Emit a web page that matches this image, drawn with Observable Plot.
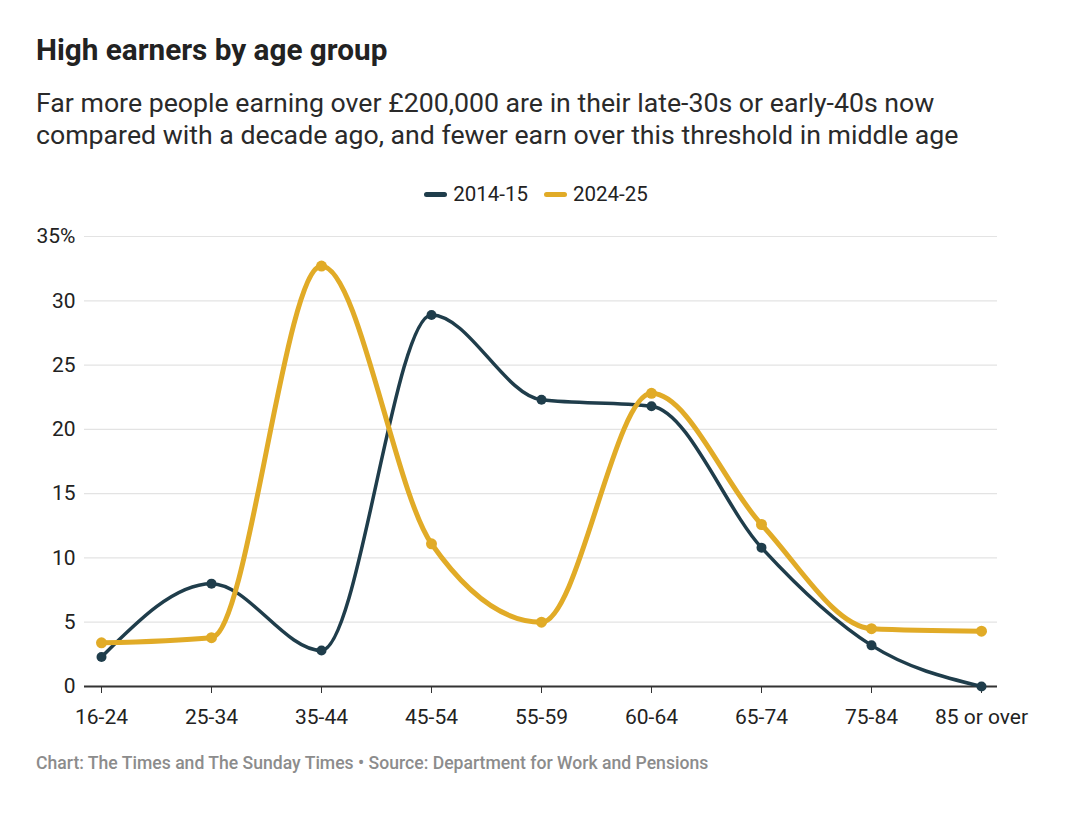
<!DOCTYPE html>
<html>
<head>
<meta charset="utf-8">
<script src="https://cdn.jsdelivr.net/npm/d3@7"></script>
<script src="https://cdn.jsdelivr.net/npm/@observablehq/plot@0.6"></script>
<style>
  html, body { margin: 0; padding: 0; background: #fff; }
  body { font-family: Roboto, "Noto Sans", sans-serif; color: #222; width: 1072px; }
  .title { position: absolute; left: 36px; top: 32px; font-size: 29.7px; font-weight: 700; line-height: 36px; color: #222; white-space: nowrap; }
  .subtitle { position: absolute; left: 36px; top: 87px; font-size: 26.7px; font-weight: 400; line-height: 32px; color: #2a2a2a; white-space: nowrap; }
  .legend { position: absolute; left: 0; width: 1072px; top: 181px; display: flex; justify-content: center; gap: 16px; font-size: 20.5px; line-height: 26px; color: #222; }
  .legend .item { display: flex; align-items: center; gap: 6px; }
  .legend .sw { width: 23px; height: 5px; border-radius: 3px; display: inline-block; }
  #chart { position: absolute; left: 0; top: 220px; }
  #chart svg text { font-size: 21px; }
  .caption { position: absolute; left: 36px; top: 752px; font-size: 17.6px; line-height: 22px; font-weight: 500; color: #8c8c8c; white-space: nowrap; }
</style>
</head>
<body>
<div class="title">High earners by age group</div>
<div class="subtitle">Far more people earning over £200,000 are in their late-30s or early-40s now<br>compared with a decade ago, and fewer earn over this threshold in middle age</div>
<div class="legend" id="legend"></div>
<div id="chart"></div>
<div class="caption">Chart: The Times and The Sunday Times • Source: Department for Work and Pensions</div>
<script>
const ages = ["16-24", "25-34", "35-44", "45-54", "55-59", "60-64", "65-74", "75-84", "85 or over"];
const s2014 = [2.3, 8.0, 2.8, 28.9, 22.3, 21.8, 10.8, 3.2, 0.0];
const s2024 = [3.4, 3.8, 32.7, 11.1, 5.0, 22.8, 12.6, 4.5, 4.3];
const seriesNames = ["2014-15", "2024-25"];
const seriesColors = ["#1f3d4b", "#e1ab27"];
const yTicks = [0, 5, 10, 15, 20, 25, 30, 35];

const rows = [];
ages.forEach((a, i) => {
  rows.push({age: a, series: seriesNames[0], value: s2014[i]});
  rows.push({age: a, series: seriesNames[1], value: s2024[i]});
});
const d14 = rows.filter(d => d.series === seriesNames[0]);
const d24 = rows.filter(d => d.series === seriesNames[1]);

const legend = document.getElementById("legend");
seriesNames.forEach((n, i) => {
  const it = document.createElement("div");
  it.className = "item";
  it.innerHTML = `<span class="sw" style="background:${seriesColors[i]}"></span><span>${n}</span>`;
  legend.appendChild(it);
});

const chart = Plot.plot({
  width: 1072,
  height: 506,
  marginTop: 16,
  marginBottom: 40,
  marginLeft: 84,
  marginRight: 75,
  style: {fontFamily: "Roboto, 'Noto Sans', sans-serif", fontSize: "21px", color: "#222", background: "white", overflow: "visible"},
  x: {type: "point", domain: ages, padding: 0.136, label: null},
  y: {domain: [0, 35], label: null},
  marks: [
    Plot.gridY(yTicks.filter(t => t > 0), {stroke: "#e3e3e3", strokeOpacity: 1, strokeWidth: 1.2}),
    Plot.axisY(yTicks, {tickSize: 0, tickPadding: 9, fill: "#222", tickFormat: d => d === 35 ? "35%" : String(d), label: null}),
    Plot.axisX({tickSize: 7, tickPadding: 16, fill: "#222", stroke: "#333", label: null}),
    Plot.ruleY([0], {stroke: "#333", strokeWidth: 2}),
    Plot.line(d14, {x: "age", y: "value", stroke: seriesColors[0], strokeWidth: 3.5, curve: "monotone-x"}),
    Plot.dot(d14, {x: "age", y: "value", fill: seriesColors[0], r: 5}),
    Plot.line(d24, {x: "age", y: "value", stroke: seriesColors[1], strokeWidth: 5, curve: "monotone-x"}),
    Plot.dot(d24, {x: "age", y: "value", fill: seriesColors[1], r: 5.5})
  ]
});
document.getElementById("chart").appendChild(chart);
</script>
</body>
</html>
